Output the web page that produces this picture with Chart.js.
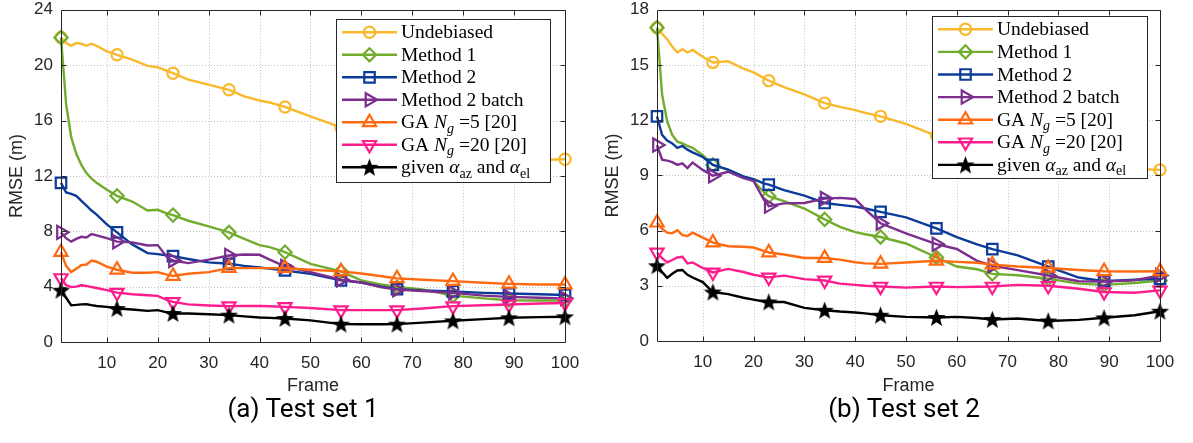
<!DOCTYPE html>
<html>
<head>
<meta charset="utf-8">
<title>RMSE per frame</title>
<script src="https://cdn.jsdelivr.net/npm/chart.js@4.4.1/dist/chart.umd.min.js"></script>
<style>
  html, body { margin: 0; padding: 0; background: #fff; }
  #wrap { position: relative; width: 1193px; height: 443px; overflow: hidden; }
  .panel { position: absolute; top: 0; height: 400px; }
  .cap {
    position: absolute; top: 393px; width: 300px; text-align: center;
    font-family: Roboto, "Liberation Sans", sans-serif; font-size: 26px; color: #000;
  }
</style>
</head>
<body>
<div id="wrap">
  <div class="panel" style="left:0;width:596px"><canvas id="set1" width="596" height="400"></canvas></div>
  <div class="panel" style="left:596px;width:597px"><canvas id="set2" width="597" height="400"></canvas></div>
  <div class="cap" style="left:153px">(a) Test set 1</div>
  <div class="cap" style="left:754px">(b) Test set 2</div>
</div>
<script>
'use strict';

/* ---- Data ---- */
const FRAMES = [1, 2, 3, 4, 5, 6, 7, 8, 10, 12, 15, 18, 20, 22, 23, 26, 30, 34, 37, 40, 42, 45,
                50, 56, 60, 64, 67, 72, 78, 84, 89, 95, 100];
const MARKER_FRAMES = [1, 12, 23, 34, 45, 56, 67, 78, 89, 100];
const X_TICKS = [10, 20, 30, 40, 50, 60, 70, 80, 90, 100];
const Y_TICKS_SET1 = [0, 4, 8, 12, 16, 20, 24];
const Y_TICKS_SET2 = [0, 3, 6, 9, 12, 15, 18];

// Test set 1
const UNDEBIASED_1 = [22.0, 21.6, 21.4, 21.6, 21.55, 21.4, 21.55, 21.4, 21.0, 20.75, 20.4, 19.95, 19.85, 19.55, 19.42, 18.95, 18.6, 18.22, 17.75, 17.45, 17.3, 16.98, 16.3, 15.5, 15.1, 14.8, 14.6, 14.25, 13.95, 13.65, 13.45, 13.15, 13.2];
const METHOD1_1    = [22.0, 17.2, 14.8, 13.6, 12.8, 12.2, 11.8, 11.5, 11.0, 10.56, 10.15, 9.5, 9.55, 9.25, 9.17, 8.76, 8.35, 7.92, 7.45, 7.0, 6.85, 6.49, 5.65, 5.1, 4.45, 4.15, 3.97, 3.8, 3.35, 3.15, 3.02, 3.0, 3.0];
const METHOD2_1    = [11.5, 10.8, 10.7, 10.56, 10.2, 9.85, 9.5, 9.2, 8.5, 7.92, 7.05, 6.42, 6.35, 6.25, 6.2, 6.0, 5.75, 5.65, 5.5, 5.38, 5.3, 5.17, 4.92, 4.45, 4.3, 4.0, 3.82, 3.72, 3.65, 3.55, 3.5, 3.45, 3.4];
const BATCH_1      = [7.92, 7.5, 7.25, 7.45, 7.6, 7.55, 7.8, 7.7, 7.5, 7.25, 7.2, 6.97, 7.0, 6.05, 5.89, 5.7, 5.95, 6.25, 6.32, 6.3, 5.95, 5.46, 5.05, 4.5, 4.3, 3.95, 3.78, 3.68, 3.55, 3.35, 3.26, 3.2, 3.15];
const GA5_1        = [6.49, 5.5, 5.05, 5.3, 5.55, 5.6, 5.89, 5.8, 5.45, 5.22, 5.0, 5.0, 5.05, 4.85, 4.77, 4.93, 5.05, 5.34, 5.34, 5.34, 5.34, 5.34, 5.22, 5.1, 4.95, 4.75, 4.6, 4.5, 4.4, 4.28, 4.2, 4.15, 4.15];
const GA20_1       = [4.62, 4.1, 3.97, 4.0, 4.1, 4.05, 3.97, 3.9, 3.75, 3.57, 3.45, 3.38, 3.33, 3.0, 2.9, 2.72, 2.64, 2.59, 2.6, 2.6, 2.58, 2.54, 2.46, 2.3, 2.3, 2.3, 2.3, 2.42, 2.59, 2.65, 2.71, 2.78, 2.82];
const GIVEN_1      = [3.74, 3.2, 2.66, 2.68, 2.72, 2.73, 2.66, 2.6, 2.54, 2.42, 2.35, 2.25, 2.3, 2.12, 2.06, 2.06, 2.0, 1.94, 1.85, 1.77, 1.74, 1.7, 1.56, 1.29, 1.28, 1.28, 1.29, 1.4, 1.53, 1.65, 1.75, 1.8, 1.82];

// Test set 2
const UNDEBIASED_2 = [17.03, 16.7, 16.4, 16.0, 15.68, 15.86, 15.68, 15.82, 15.45, 15.14, 15.2, 14.8, 14.6, 14.3, 14.15, 13.8, 13.4, 12.93, 12.72, 12.55, 12.4, 12.21, 11.8, 11.15, 10.9, 10.65, 10.5, 10.2, 9.95, 9.7, 9.55, 9.35, 9.3];
const METHOD1_2    = [17.03, 13.4, 11.95, 11.2, 10.83, 10.74, 10.6, 10.5, 10.1, 9.57, 9.3, 8.9, 8.7, 8.1, 7.87, 7.6, 7.2, 6.61, 6.2, 5.92, 5.8, 5.65, 5.3, 4.54, 4.05, 3.9, 3.65, 3.57, 3.38, 3.12, 3.05, 3.15, 3.29];
const METHOD2_2    = [12.21, 11.2, 10.9, 10.74, 10.5, 10.6, 10.4, 10.25, 10.0, 9.57, 9.32, 8.95, 8.8, 8.57, 8.5, 8.2, 7.9, 7.5, 7.4, 7.3, 7.2, 7.02, 6.72, 6.12, 5.65, 5.25, 4.99, 4.65, 4.04, 3.45, 3.25, 3.33, 3.38];
const BATCH_2      = [10.65, 9.85, 9.8, 9.72, 9.57, 9.66, 9.4, 9.7, 9.3, 8.98, 9.2, 8.85, 8.7, 7.7, 7.33, 7.48, 7.5, 7.74, 7.78, 7.72, 7.15, 6.4, 5.85, 5.26, 5.0, 4.36, 4.09, 3.85, 3.56, 3.25, 3.23, 3.3, 3.56];
const GA5_2        = [6.43, 6.1, 5.89, 5.85, 6.02, 5.75, 5.71, 5.89, 5.62, 5.35, 5.15, 5.12, 5.08, 4.9, 4.81, 4.7, 4.51, 4.51, 4.42, 4.28, 4.22, 4.19, 4.27, 4.36, 4.3, 4.25, 4.15, 4.05, 3.97, 3.86, 3.79, 3.78, 3.79];
const GA20_2       = [4.81, 4.5, 4.27, 4.4, 4.54, 4.58, 4.22, 4.27, 3.97, 3.73, 3.92, 3.75, 3.6, 3.5, 3.46, 3.55, 3.36, 3.29, 3.12, 3.05, 3.0, 2.96, 2.9, 2.96, 2.93, 2.95, 2.96, 3.05, 3.0, 2.84, 2.66, 2.62, 2.75];
const GIVEN_2      = [4.09, 3.75, 3.43, 3.65, 3.83, 3.86, 3.6, 3.45, 3.2, 2.66, 2.55, 2.35, 2.25, 2.15, 2.12, 2.12, 1.8, 1.67, 1.6, 1.55, 1.5, 1.4, 1.31, 1.28, 1.31, 1.25, 1.17, 1.22, 1.09, 1.15, 1.26, 1.4, 1.62];

// Legend labels as text runs: i = italic, sub = subscript
const SERIES_LABELS = [
  [{ t: 'Undebiased' }],
  [{ t: 'Method 1' }],
  [{ t: 'Method 2' }],
  [{ t: 'Method 2 batch' }],
  [{ t: 'GA ' }, { t: 'N', i: true }, { t: 'g', i: true, sub: true }, { t: ' =5 [20]' }],
  [{ t: 'GA ' }, { t: 'N', i: true }, { t: 'g', i: true, sub: true }, { t: ' =20 [20]' }],
  [{ t: 'given ' }, { t: 'α', i: true }, { t: 'az', sub: true }, { t: ' and ' }, { t: 'α', i: true }, { t: 'el', sub: true }],
];

/* ---- Styles ---- */
const AXIS_COLOR = '#262626';
const GRID_COLOR = '#c4c4c4';
const TICK_FONT  = { family: '"Liberation Sans", Arial, sans-serif', size: 17 };
const SERIF      = '"Liberation Serif", "Times New Roman", serif';

function starImage(r, color) {
  const c = document.createElement('canvas');
  const s = Math.ceil(r * 2 + 2);
  c.width = c.height = s;
  const g = c.getContext('2d');
  g.translate(s / 2, s / 2 + 0.8);
  g.beginPath();
  for (let k = 0; k < 10; k++) {
    const rr = k % 2 ? r * 0.42 : r;
    const a = -Math.PI / 2 + k * Math.PI / 5;
    g.lineTo(rr * Math.cos(a), rr * Math.sin(a));
  }
  g.closePath();
  g.fillStyle = color;
  g.fill();
  return c;
}

const STYLES = [
  { color: '#F9B92D', marker: 'circle',   radius: 5.6, rotation: 0 },
  { color: '#72AC2E', marker: 'rectRot',  radius: 6.6, rotation: 0 },
  { color: '#0B3C9A', marker: 'rect',     radius: 7.4, rotation: 0 },
  { color: '#7B2E8D', marker: 'triangle', radius: 7.6, rotation: 90 },
  { color: '#FF6A10', marker: 'triangle', radius: 7.6, rotation: 0 },
  { color: '#FF1C8D', marker: 'triangle', radius: 7.6, rotation: 180 },
  { color: '#000000', marker: starImage(9.5, '#000'), radius: 7.0, rotation: 0 },
];

/* ---- Plugins ---- */
// Dotted grid under the data, box with inward tick marks on top of it
const axesFrame = {
  id: 'axesFrame',
  beforeDatasetsDraw(chart) {
    const { ctx, chartArea: a, scales: { x, y } } = chart;
    ctx.save();
    ctx.strokeStyle = GRID_COLOR;
    ctx.lineWidth = 1;
    ctx.setLineDash([1, 2]);
    ctx.beginPath();
    for (const t of x.ticks) {
      const px = Math.round(x.getPixelForValue(t.value)) + 0.5;
      if (px > a.right - 2) continue;
      ctx.moveTo(px, a.top); ctx.lineTo(px, a.bottom);
    }
    for (const t of y.ticks) {
      const py = Math.round(y.getPixelForValue(t.value)) + 0.5;
      if (py < a.top + 2 || py > a.bottom - 2) continue;
      ctx.moveTo(a.left, py); ctx.lineTo(a.right, py);
    }
    ctx.stroke();
    ctx.restore();
  },
  afterDatasetsDraw(chart) {
    const { ctx, chartArea: a, scales: { x, y } } = chart;
    const L = Math.round(a.left) + 0.5, R = Math.round(a.right) + 0.5;
    const T = Math.round(a.top) + 0.5, B = Math.round(a.bottom) + 0.5;
    ctx.save();
    ctx.strokeStyle = AXIS_COLOR;
    ctx.lineWidth = 1;
    ctx.beginPath();
    ctx.rect(L, T, R - L, B - T);
    for (const t of x.ticks) {
      const px = Math.round(x.getPixelForValue(t.value)) + 0.5;
      ctx.moveTo(px, B); ctx.lineTo(px, B - 5);
      ctx.moveTo(px, T); ctx.lineTo(px, T + 5);
    }
    for (const t of y.ticks) {
      const py = Math.round(y.getPixelForValue(t.value)) + 0.5;
      ctx.moveTo(L, py); ctx.lineTo(L + 5, py);
      ctx.moveTo(R, py); ctx.lineTo(R - 5, py);
    }
    ctx.stroke();
    ctx.restore();
  },
};

// Boxed legend with line sample, marker and math-style label text
const mathLegend = {
  id: 'mathLegend',
  afterDatasetsDraw(chart, args, o) {
    const ctx = chart.ctx;
    ctx.save();
    ctx.fillStyle = '#fff';
    ctx.fillRect(o.x, o.y, o.w, o.h);
    ctx.strokeStyle = AXIS_COLOR;
    ctx.lineWidth = 1;
    ctx.strokeRect(o.x + 0.5, o.y + 0.5, o.w, o.h);

    chart.data.datasets.forEach((ds, i) => {
      const cy = o.y + o.row0 + i * o.rowH;
      const st = STYLES[i];
      ctx.setLineDash([]);
      ctx.strokeStyle = st.color;
      ctx.lineWidth = ds.borderWidth;
      ctx.beginPath();
      ctx.moveTo(o.x + 6, cy);
      ctx.lineTo(o.x + 61, cy);
      ctx.stroke();

      ctx.fillStyle = 'rgba(0,0,0,0)';
      ctx.lineWidth = ds.pointBorderWidth;
      Chart.helpers.drawPoint(ctx, {
        pointStyle: st.marker, rotation: st.rotation, radius: st.radius,
        borderWidth: ds.pointBorderWidth,
      }, o.x + 33.5, cy);

      let tx = o.x + 65;
      const base = cy + 6;
      ctx.fillStyle = '#000';
      ctx.textBaseline = 'alphabetic';
      for (const run of SERIES_LABELS[i]) {
        const size = run.sub ? 14 : 19.5;
        ctx.font = `${run.i ? 'italic ' : ''}${size}px ${SERIF}`;
        ctx.fillText(run.t, tx, run.sub ? base + 4.5 : base);
        tx += ctx.measureText(run.t).width;
      }
    });
    ctx.restore();
  },
};

/* ---- Chart builder ---- */
function buildChart(id, seriesValues, yTicks, box, plotTop, xAxisHeight, padRight) {
  const datasets = seriesValues.map((vals, i) => {
    const st = STYLES[i];
    return {
      label: SERIES_LABELS[i].map(r => r.t).join(''),
      data: FRAMES.map((f, k) => ({ x: f, y: vals[k] })),
      borderColor: st.color,
      backgroundColor: 'rgba(0,0,0,0)',
      borderWidth: 2.4,
      tension: 0,
      pointStyle: st.marker,
      pointRotation: st.rotation,
      pointRadius: ctx => MARKER_FRAMES.includes(FRAMES[ctx.dataIndex]) ? st.radius : 0,
      pointBorderColor: st.color,
      pointBackgroundColor: 'rgba(0,0,0,0)',
      pointBorderWidth: 2.2,
      clip: false,
      order: seriesValues.length - 1 - i,
    };
  });

  return new Chart(document.getElementById(id), {
    type: 'line',
    data: { datasets },
    plugins: [axesFrame, mathLegend],
    options: {
      responsive: false,
      animation: false,
      events: [],
      layout: { padding: { top: plotTop, right: padRight, bottom: 0, left: 0 } },
      plugins: {
        legend: { display: false },
        tooltip: { enabled: false },
        mathLegend: box,
      },
      scales: {
        x: {
          type: 'linear',
          min: 1,
          max: 100,
          afterBuildTicks: s => { s.ticks = X_TICKS.map(v => ({ value: v })); },
          afterFit: s => { s.height = xAxisHeight; s.paddingLeft = 0; s.paddingRight = 0; },
          grid: { display: false, drawTicks: false },
          border: { display: false },
          ticks: { color: AXIS_COLOR, font: TICK_FONT, padding: 11, maxRotation: 0, autoSkip: false },
          title: {
            display: true, text: 'Frame', color: AXIS_COLOR,
            font: { family: TICK_FONT.family, size: 18 }, padding: { top: 0, bottom: 3 },
          },
        },
        y: {
          type: 'linear',
          min: yTicks[0],
          max: yTicks[yTicks.length - 1],
          afterBuildTicks: s => { s.ticks = yTicks.map(v => ({ value: v })); },
          afterFit: s => { s.width = 61; s.paddingTop = 0; s.paddingBottom = 0; },
          grid: { display: false, drawTicks: false },
          border: { display: false },
          ticks: { color: AXIS_COLOR, font: TICK_FONT, padding: 8 },
          title: {
            display: true, text: 'RMSE (m)', color: AXIS_COLOR,
            font: { family: TICK_FONT.family, size: 18 }, padding: { top: 6, bottom: 0 },
          },
        },
      },
    },
  });
}

buildChart('set1',
  [UNDEBIASED_1, METHOD1_1, METHOD2_1, BATCH_1, GA5_1, GA20_1, GIVEN_1],
  Y_TICKS_SET1,
  { x: 336, y: 19, w: 214, h: 163, row0: 13.3, rowH: 22.5 },
  8, 58, 31);

buildChart('set2',
  [UNDEBIASED_2, METHOD1_2, METHOD2_2, BATCH_2, GA5_2, GA20_2, GIVEN_2],
  Y_TICKS_SET2,
  { x: 336, y: 16, w: 215, h: 162, row0: 13.3, rowH: 22.6 },
  7, 59, 33);
</script>
</body>
</html>
